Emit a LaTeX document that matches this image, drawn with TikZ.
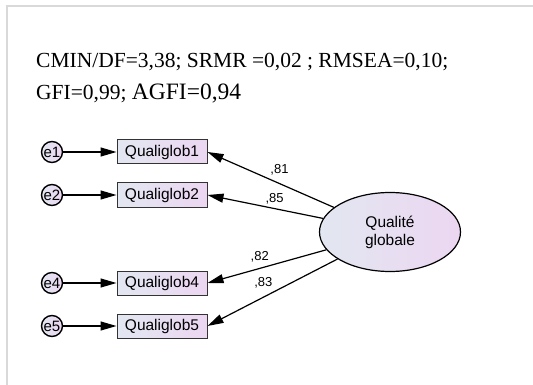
\documentclass[tikz,border=0pt]{standalone}
\usepackage{fontspec}
\setmainfont{Liberation Serif}
\setsansfont{Liberation Sans}
\usetikzlibrary{arrows.meta,shapes.geometric,positioning}
\definecolor{shadeL}{HTML}{E2E7F1}
\definecolor{shadeR}{HTML}{ECD6F1}

\begin{document}
\begin{tikzpicture}[
  x=1pt, y=-1pt,
  fitline/.style={anchor=base west, inner sep=0pt, font=\fontsize{21.5}{24}\selectfont},
  err/.style={circle, draw, line width=1.4pt, minimum size=21pt, inner sep=0pt, left color=shadeL, right color=shadeR, font=\sffamily\fontsize{15}{15}\selectfont},
  item/.style={rectangle, draw=black!80, line width=1pt, minimum width=90pt, minimum height=24pt, inner sep=0pt, left color=shadeL, right color=shadeR, font=\sffamily\fontsize{15.5}{15.5}\selectfont},
  factor/.style={ellipse, draw, line width=1.2pt, minimum width=141pt, minimum height=79pt, inner sep=0pt, left color=shadeL, right color=shadeR, align=center, font=\sffamily\fontsize{15.5}{18}\selectfont},
  load/.style={inner sep=0pt, font=\sffamily\fontsize{13}{13}\selectfont},
  arr/.style={-{Triangle[length=16pt,width=9pt]}, line width=1.2pt}
]
  \useasboundingbox (0,0) rectangle (533,385);
  \draw[black!15, line width=2pt] (6.5,385) -- (6.5,6.5) -- (533,6.5);
  \node[fitline] (fit1) at (36,68) {CMIN/DF=3,38; SRMR =0,02 ; RMSEA=0,10;};
  \node[fitline] (fit2) at (36,100) {GFI=0,99; {\fontsize{23.5}{24}\selectfont AGFI=0,94}};
  \node[item] (q1) at (162,152) {Qualiglob1};
  \node[item] (q2) at (162,195) {Qualiglob2};
  \node[item] (q4) at (162,283) {Qualiglob4};
  \node[item] (q5) at (162,326) {Qualiglob5};
  \node[err] (e1) at (52,152) {e1};
  \node[err] (e2) at (52,195) {e2};
  \node[err] (e4) at (52,283) {e4};
  \node[err] (e5) at (52,326) {e5};
  \node[factor] (qg) at (390,232) {Qualité\\globale};
  \draw[arr] (e1) -- (q1);
  \draw[arr] (e2) -- (q2);
  \draw[arr] (e4) -- (q4);
  \draw[arr] (e5) -- (q5);
  \draw[arr] (qg) -- node[load, pos=0.43, above=8pt] {,81} (q1.east);
  \draw[arr] (qg) -- node[load, pos=0.42, above=4pt] {,85} (q2.east);
  \draw[arr] (qg) -- node[load, pos=0.56, above=6pt] {,82} (q4.east);
  \draw[arr] (qg) -- node[load, pos=0.57, above=8pt] {,83} (q5.east);
\end{tikzpicture}
\end{document}
